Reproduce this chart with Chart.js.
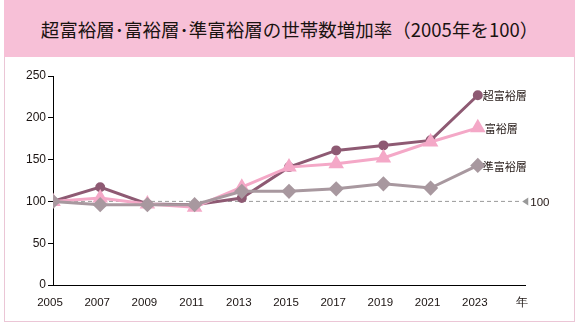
<!DOCTYPE html>
<html>
<head>
<meta charset="utf-8">
<script src="https://cdn.jsdelivr.net/npm/chart.js@4"></script>
<style>
    body { margin: 0; width: 580px; height: 328px; background: #fff; position: relative; overflow: hidden; }
    .band {
        position: absolute; left: 4px; top: 0; width: 571px; height: 57px;
        background: #f7c0d7;
        display: flex; align-items: center; justify-content: center;
        font-family: "Noto Sans CJK JP", sans-serif; font-size: 18.5px; font-weight: 400; color: #1a1311;
    }
    .panel {
        position: absolute; left: 4px; top: 57px; width: 569px; height: 264px;
        border: 1px solid #ebc6d6; border-top: none;
    }
    canvas { position: absolute; left: 0; top: 0; }
</style>
</head>
<body>
<div class="band">超富裕層･富裕層･準富裕層の世帯数増加率（2005年を100）</div>
<div class="panel"></div>
<canvas id="chart" width="580" height="328"></canvas>
<script>
const years = [2005, 2007, 2009, 2011, 2013, 2015, 2017, 2019, 2021, 2023];
const superRich = [100, 117, 97, 96, 104, 141, 161, 167, 173, 227];
const rich = [100, 104, 97, 93, 117, 141, 145, 152, 171, 188];
const semiRich = [100, 96, 96, 96, 112, 112, 115, 121, 116, 143];
const seriesNames = ['超富裕層', '富裕層', '準富裕層'];
const yTicks = [0, 50, 100, 150, 200, 250];
const baseValue = 100;
const baseRange = [2005, 2024.8];

const toPoints = vals => vals.map((v, i) => ({x: years[i], y: v}));

const endLabels = {
    id: 'endLabels',
    afterDatasetsDraw(chart) {
        const ctx = chart.ctx;
        const xs = chart.scales.x, ys = chart.scales.y;
        ctx.save();
        ctx.fillStyle = '#231815';
        ctx.font = '11px "Noto Sans CJK JP", sans-serif';
        ctx.textBaseline = 'middle';
        const last = years.length - 1;
        const x0 = xs.getPixelForValue(years[last]) + 5;
        ctx.fillText(seriesNames[0], x0, ys.getPixelForValue(superRich[last]) + 1);
        ctx.fillText(seriesNames[1], x0 + 2, ys.getPixelForValue(rich[last]) + 1);
        ctx.fillText(seriesNames[2], x0, ys.getPixelForValue(semiRich[last]) + 1);

        // base marker
        const bx = xs.getPixelForValue(baseRange[1]) + 6;
        const by = ys.getPixelForValue(baseValue);
        ctx.fillStyle = '#999';
        ctx.beginPath();
        ctx.moveTo(bx - 4, by);
        ctx.lineTo(bx + 2, by - 4);
        ctx.lineTo(bx + 2, by + 4);
        ctx.closePath();
        ctx.fill();
        ctx.fillStyle = '#231815';
        ctx.font = '11.5px "Liberation Sans", Arial, sans-serif';
        ctx.fillText(String(baseValue), bx + 4, by + 1);
        ctx.restore();
    }
};

new Chart(document.getElementById('chart'), {
    type: 'line',
    data: {
        datasets: [
            {
                label: seriesNames[2],
                data: toPoints(semiRich),
                borderColor: '#a8989f', backgroundColor: '#a8989f',
                borderWidth: 3, pointStyle: 'rectRot', pointRadius: 5.5,
                order: 0
            },
            {
                label: seriesNames[1],
                data: toPoints(rich),
                borderColor: '#f4a8c7', backgroundColor: '#f4a8c7',
                borderWidth: 3, pointStyle: 'triangle', pointRadius: 6,
                order: 1
            },
            {
                label: seriesNames[0],
                data: toPoints(superRich),
                borderColor: '#8e5a73', backgroundColor: '#8e5a73',
                borderWidth: 3, pointStyle: 'circle', pointRadius: 3.5,
                order: 2
            },
            {
                label: 'base',
                data: baseRange.map(x => ({x: x, y: baseValue})),
                borderColor: '#9a9a9a', borderWidth: 1, borderDash: [4, 3],
                pointRadius: 0, order: 3
            }
        ]
    },
    options: {
        responsive: false,
        animation: false,
        layout: { padding: { left: 0, top: 76, right: 55, bottom: 0 } },
        plugins: { legend: { display: false }, tooltip: { enabled: false } },
        scales: {
            x: {
                type: 'linear', min: 2005, max: 2025,
                grid: { display: false },
                border: { color: '#000', width: 1 },
                afterBuildTicks(scale) {
                    scale.ticks = years.concat([2025]).map(v => ({value: v}));
                },
                afterFit(scale) { scale.height = 43; },
                ticks: {
                    color: '#1a1311', padding: 3, labelOffset: -3,
                    font: { family: '"Liberation Sans", Arial, sans-serif', size: 11.5 },
                    maxRotation: 0, autoSkip: false,
                    callback: v => v === 2025 ? '年' : String(v)
                }
            },
            y: {
                min: 0, max: 250,
                grid: { drawOnChartArea: false, drawTicks: true, tickLength: 5, color: '#000' },
                border: { color: '#000', width: 1 },
                afterBuildTicks(scale) {
                    scale.ticks = yTicks.map(v => ({value: v}));
                },
                afterFit(scale) { scale.width = 53; },
                ticks: {
                    color: '#1a1311', padding: 2,
                    font: { family: '"Liberation Sans", Arial, sans-serif', size: 12 }
                }
            }
        }
    },
    plugins: [endLabels]
});
</script>
</body>
</html>
